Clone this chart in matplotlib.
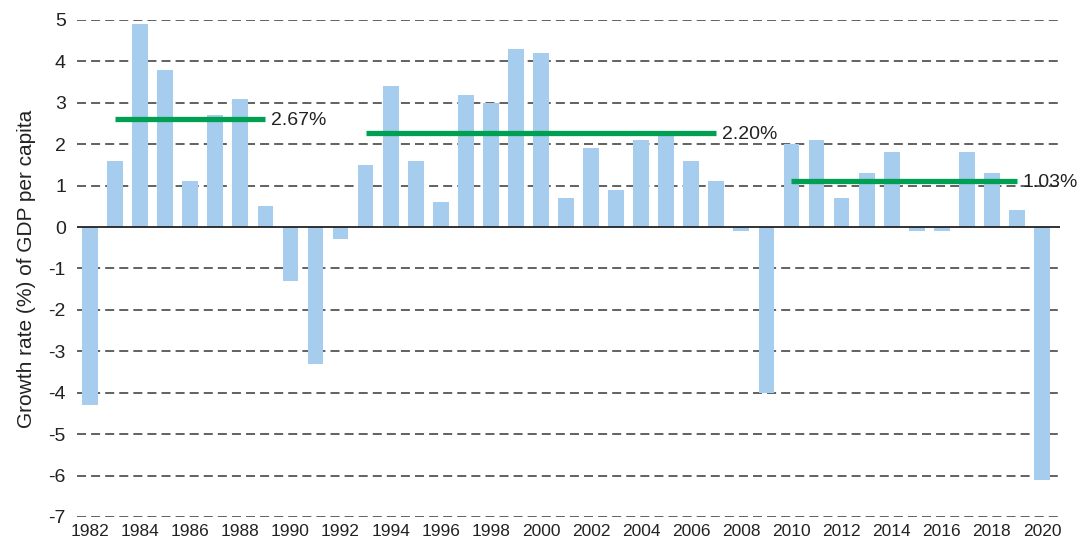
import matplotlib
matplotlib.use("Agg")
import matplotlib.pyplot as plt

years = list(range(1982, 2021))
growth = [-4.3, 1.6, 4.9, 3.8, 1.1, 2.7, 3.1, 0.5, -1.3, -3.3,
          -0.3, 1.5, 3.4, 1.6, 0.6, 3.2, 3.0, 4.3, 4.2, 0.7,
          1.9, 0.9, 2.1, 2.2, 1.6, 1.1, -0.1, -4.0, 2.0, 2.1,
          0.7, 1.3, 1.8, -0.1, -0.1, 1.8, 1.3, 0.4, -6.1]

period_start = [1983, 1993, 2010]
period_end = [1989, 2007, 2019]
period_level = [2.6, 2.27, 1.12]
period_label = ["2.67%", "2.20%", "1.03%"]

yticks = list(range(-7, 6))
xticks = list(range(1982, 2021, 2))

plt.rcParams['font.family'] = ['Liberation Sans', 'DejaVu Sans']

fig = plt.figure(figsize=(10.83, 5.45), dpi=100)
ax = fig.add_axes([0.0711, 0.0514, 0.9077, 0.912])

for y in yticks:
    if y == 0:
        continue
    ax.axhline(y, color='#555555', lw=1.3, ls=(0, (5, 2.8)), zorder=0)
ax.axhline(0, color='#222222', lw=1.3, zorder=3)

ax.bar(years, growth, width=0.63, color='#A6CDEE', zorder=2)

for s, e, lv, lb in zip(period_start, period_end, period_level, period_label):
    ax.plot([s, e], [lv, lv], color='#00A052', lw=3.8, solid_capstyle='butt', zorder=4)
    ax.annotate(lb, xy=(e, lv), xytext=(4, -1), textcoords='offset points',
                ha='left', va='center', fontsize=14, color='#222222', zorder=5)

ax.set_xlim(1981.48, 2020.72)
ax.set_ylim(-7, 5)
ax.set_yticks(yticks)
ax.set_yticklabels([str(v) for v in yticks], fontsize=14, color='#222222')
ax.set_xticks(xticks)
ax.set_xticklabels([str(v) for v in xticks], fontsize=12.5, color='#222222')
ax.tick_params(axis='both', length=0)
ax.tick_params(axis='y', pad=8)
ax.tick_params(axis='x', pad=5)
for sp in ax.spines.values():
    sp.set_visible(False)

ax.set_ylabel("Growth rate (%) of GDP per capita", fontsize=15, color='#222222', labelpad=9)

fig.savefig("out.png", dpi=100)
